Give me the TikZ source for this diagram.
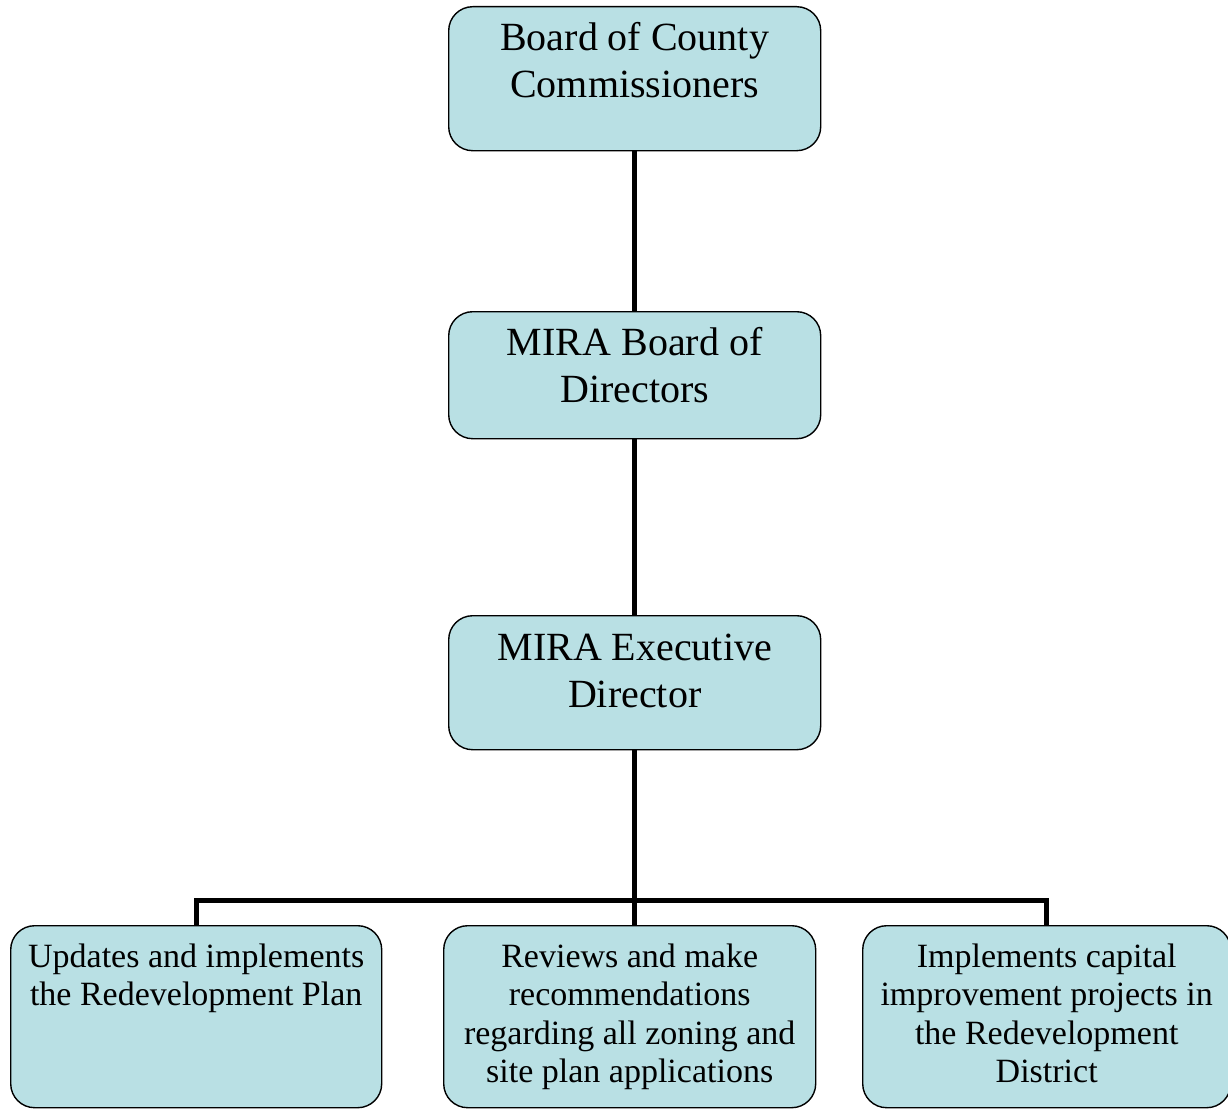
\documentclass[tikz,border=0pt]{standalone}
\usepackage{fontspec}
\setmainfont{Liberation Serif}
\usetikzlibrary{backgrounds}
\definecolor{boxfill}{RGB}{185,224,228}
% top-aligned, centred text block of fixed size: width, height, first baseline, font size, line skip, text
\newcommand\orgtext[6]{%
  \begin{minipage}[t][#2pt][t]{#1pt}\centering
  \fontsize{#4pt}{#5pt}\selectfont\rule{0pt}{#3pt}#6%
  \end{minipage}}
\tikzset{
  orgbox/.style={draw=black, line width=1.4pt, fill=boxfill,
    rounded corners=24pt, inner sep=0pt, anchor=north west},
  link/.style={line width=5pt, draw=black, line join=miter}
}
\begin{document}
\begin{tikzpicture}[x=1pt, y=-1pt]
\useasboundingbox (0,0) rectangle (1228,1108);

\node[orgbox] (bcc) at (448,6)
  {\orgtext{372}{144}{44}{40}{46.5}{Board of County\\Commissioners}};
\node[orgbox] (mbd) at (448,311)
  {\orgtext{372}{127}{44}{40}{46.5}{MIRA Board of\\Directors}};
\node[orgbox] (med) at (448,615)
  {\orgtext{372}{134}{45}{40}{46.5}{MIRA Executive\\Director}};

\node[orgbox] (plan) at (10,925)
  {\orgtext{371}{182}{42}{34}{38.2}{Updates and implements\\the Redevelopment Plan}};
\node[orgbox] (zoning) at (443,925)
  {\orgtext{372}{182}{42}{34}{38.2}{Reviews and make\\recommendations\\regarding all zoning and\\site plan applications}};
\node[orgbox] (capital) at (862,925)
  {\orgtext{368}{182}{42}{34}{38.2}{Implements capital\\improvement projects in\\the Redevelopment\\District}};

\begin{pgfonlayer}{background}
  \draw[link] (bcc.south) -- (mbd.north);
  \draw[link] (mbd.south) -- (med.north);
  \draw[link] (med.south) -- (med.south |- zoning.north);
  \draw[link] (plan.north) -- ++(0,-25) -| (capital.north);
\end{pgfonlayer}
\end{tikzpicture}
\end{document}
